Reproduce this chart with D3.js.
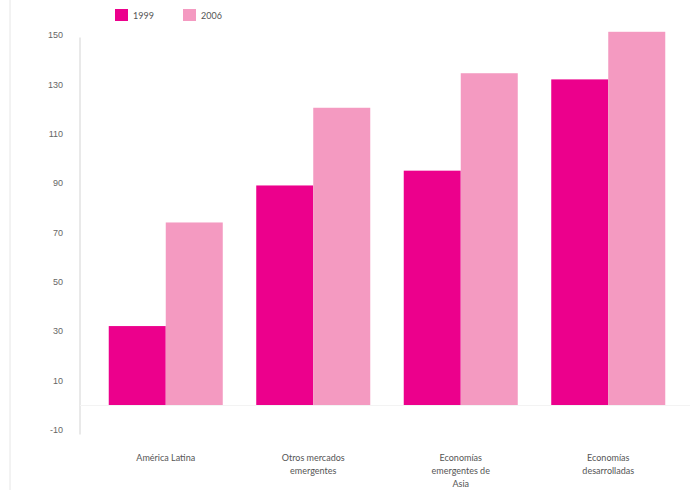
<!DOCTYPE html>
<html>
<head>
<meta charset="utf-8">
<script src="https://cdn.jsdelivr.net/npm/d3@7/dist/d3.min.js"></script>
<style>
  html, body { margin: 0; padding: 0; background: #fff; }
  svg { display: block; font-family: "Lato", "DejaVu Sans", sans-serif; }
</style>
</head>
<body>
<svg id="chart" width="693" height="490"></svg>
<script>
// Categories, series and axis ticks
const categories = ["América Latina", "Otros mercados emergentes", "Economías emergentes de Asia", "Economías desarrolladas"];
const categoryLines = [["América Latina"], ["Otros mercados", "emergentes"], ["Economías", "emergentes de", "Asia"], ["Economías", "desarrolladas"]];
const seriesNames = ["1999", "2006"];
const values1999 = [32, 89, 95, 132];
const values2006 = [74, 120.5, 134.5, 151.3];
const yTicks = [-10, 10, 30, 50, 70, 90, 110, 130, 150];
const colors = ["#ec008c", "#f49ac1"];

const svg = d3.select("#chart");

const y = d3.scaleLinear().domain([0, 150]).range([405, 35]);
const x0 = d3.scaleBand().domain(categories).range([92, 682]).paddingInner(0.227).paddingOuter(0.1135);
const x1 = d3.scaleBand().domain(seriesNames).range([0, x0.bandwidth()]);
const color = d3.scaleOrdinal().domain(seriesNames).range(colors);

const rows = categories.map((c, i) => ({ cat: c, vals: [values1999[i], values2006[i]] }));

// faint frame line on the left edge
svg.append("line").attr("x1", 10).attr("x2", 10).attr("y1", 0).attr("y2", 490)
  .attr("stroke", "#e6e6e6").attr("stroke-width", 1);

// y axis
const yAxis = d3.axisLeft(y).tickValues(yTicks).tickSize(0).tickPadding(17).tickFormat(d => String(d));
const gy = svg.append("g").attr("transform", "translate(80,0)").call(yAxis);
gy.select(".domain").remove();
gy.selectAll("text").attr("fill", "#666").attr("font-size", 9);
svg.append("line").attr("x1", 80).attr("x2", 80).attr("y1", y(149)).attr("y2", y(-12))
  .attr("stroke", "#e2e2e2").attr("stroke-width", 1.5);

// baseline
svg.append("line").attr("x1", 80).attr("x2", 690).attr("y1", y(0) + 0.5).attr("y2", y(0) + 0.5)
  .attr("stroke", "#f3f3f3").attr("stroke-width", 1);

// bars
const groups = svg.append("g").selectAll("g").data(rows).join("g")
  .attr("transform", d => `translate(${x0(d.cat)},0)`);
groups.selectAll("rect").data(d => d.vals.map((v, i) => ({ key: seriesNames[i], v })))
  .join("rect")
  .attr("x", d => x1(d.key))
  .attr("width", x1.bandwidth())
  .attr("y", d => y(d.v))
  .attr("height", d => y(0) - y(d.v))
  .attr("fill", d => color(d.key));

// category labels
const labels = svg.append("g").selectAll("text").data(categories).join("text")
  .attr("x", d => x0(d) + x0.bandwidth() / 2)
  .attr("y", 461)
  .attr("text-anchor", "middle")
  .attr("fill", "#555")
  .attr("font-size", 9);
labels.each(function(d, i) {
  d3.select(this).selectAll("tspan").data(categoryLines[i]).join("tspan")
    .attr("x", x0(d) + x0.bandwidth() / 2)
    .attr("dy", (t, j) => j === 0 ? 0 : 13)
    .text(t => t);
});

// legend
const legendX = [115, 183];
const legend = svg.append("g").selectAll("g").data(seriesNames).join("g")
  .attr("transform", (d, i) => `translate(${legendX[i]},9)`);
legend.append("rect").attr("width", 13).attr("height", 12).attr("fill", d => color(d));
legend.append("text").attr("x", 18).attr("y", 9.5).attr("fill", "#555").attr("font-size", 9).text(d => d);
</script>
</body>
</html>
